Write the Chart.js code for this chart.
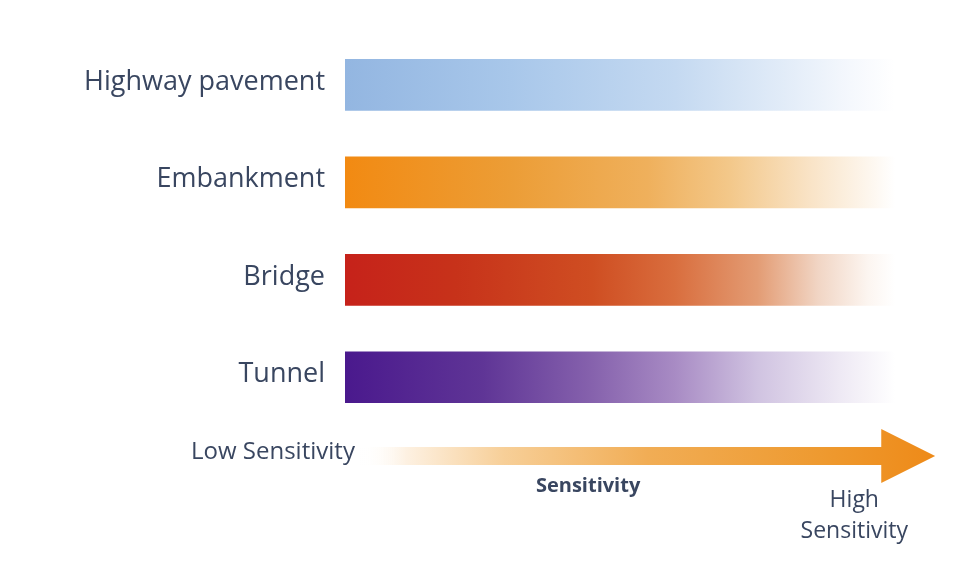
<!DOCTYPE html>
<html>
<head>
<meta charset="utf-8">
<script src="https://cdn.jsdelivr.net/npm/chart.js@4.4.1/dist/chart.umd.min.js"></script>
<style>
  html, body { margin: 0; padding: 0; background: #ffffff; }
  #wrap { width: 973px; height: 563px; position: relative; }
</style>
</head>
<body>
<div id="wrap"><canvas id="c"></canvas></div>
<script>
// ---- data ----
const categories = ["Highway pavement", "Embankment", "Bridge", "Tunnel"];
const sensitivityValues = [100, 100, 100, 100];
const axisLabelLow = "Low Sensitivity";
const axisLabelHigh = ["High", "Sensitivity"];
const axisTitle = "Sensitivity";

// ---- styles ----
const TEXT_COLOR = "#394660";
const FONT = "'Open Sans', 'Noto Sans', sans-serif";
const gradientStops = [
  [[0, "#93b6e1"], [0.3, "#a8c7ea"], [0.6, "#c4d9f1"], [0.8, "#e2ecf8"], [0.92, "#f5f8fd"], [1, "#ffffff"]],
  [[0, "#f28a12"], [0.3, "#ec9d36"], [0.55, "#efb05c"], [0.7, "#f3c88a"], [0.85, "#f9e4c8"], [1, "#ffffff"]],
  [[0, "#c6221a"], [0.2, "#c7321a"], [0.45, "#cf4e22"], [0.6, "#d96e3e"], [0.75, "#e39c74"], [0.86, "#f1d5c4"], [0.95, "#fcf5f0"], [1, "#ffffff"]],
  [[0, "#4a198d"], [0.25, "#5f3596"], [0.45, "#8662ad"], [0.6, "#a88bc4"], [0.75, "#d0c3e1"], [0.9, "#eee9f4"], [1, "#ffffff"]]
];

function barGradient(context) {
  const chart = context.chart;
  const area = chart.chartArea;
  if (!area) return gradientStops[context.dataIndex][0][1];
  const g = chart.ctx.createLinearGradient(area.left, 0, area.right, 0);
  gradientStops[context.dataIndex].forEach(s => g.addColorStop(s[0], s[1]));
  return g;
}

const arrowPlugin = {
  id: "sensitivityArrow",
  afterDraw(chart) {
    const ctx = chart.ctx;
    const xs = chart.scales.x;
    const area = chart.chartArea;
    const yMid = area.bottom + 30;
    const x0 = xs.getPixelForValue(2.7);
    const xHead = xs.getPixelForValue(97.5);
    const xTip = xs.getPixelForValue(107.3);
    const shaftHalf = 9, headHalf = 27;
    const g = ctx.createLinearGradient(x0, 0, xTip, 0);
    g.addColorStop(0, "rgba(255,255,255,0)");
    g.addColorStop(0.08, "#fdf1e2");
    g.addColorStop(0.25, "#f7cf98");
    g.addColorStop(0.5, "#f1ad55");
    g.addColorStop(0.8, "#ee9a30");
    g.addColorStop(1, "#ee8a18");
    ctx.save();
    ctx.fillStyle = g;
    ctx.beginPath();
    ctx.moveTo(x0, yMid - shaftHalf);
    ctx.lineTo(xHead, yMid - shaftHalf);
    ctx.lineTo(xHead, yMid - headHalf);
    ctx.lineTo(xTip, yMid);
    ctx.lineTo(xHead, yMid + headHalf);
    ctx.lineTo(xHead, yMid + shaftHalf);
    ctx.lineTo(x0, yMid + shaftHalf);
    ctx.closePath();
    ctx.fill();

    ctx.fillStyle = TEXT_COLOR;
    ctx.textBaseline = "middle";
    ctx.font = "24px " + FONT;
    ctx.textAlign = "right";
    ctx.fillText(axisLabelLow, xs.getPixelForValue(1.8), yMid - 4);

    ctx.textAlign = "center";
    ctx.font = "bold 20px " + FONT;
    ctx.fillText(axisTitle, xs.getPixelForValue(44.2), yMid + 30);

    ctx.font = "23px " + FONT;
    const hx = xs.getPixelForValue(92.6);
    ctx.fillText(axisLabelHigh[0], hx, yMid + 44);
    ctx.fillText(axisLabelHigh[1], hx, yMid + 75);
    ctx.restore();
  }
};

new Chart(document.getElementById("c"), {
  type: "bar",
  data: {
    labels: categories,
    datasets: [{
      data: sensitivityValues,
      backgroundColor: barGradient,
      borderWidth: 0,
      barPercentage: 0.53,
      categoryPercentage: 1.0
    }]
  },
  options: {
    indexAxis: "y",
    responsive: true,
    maintainAspectRatio: false,
    animation: false,
    layout: { padding: { top: 33, bottom: 137, left: 0, right: 78 } },
    plugins: { legend: { display: false }, tooltip: { enabled: false } },
    scales: {
      x: { display: false, min: 0, max: 100 },
      y: {
        afterFit(scale) { scale.width = 345; },
        grid: { display: false, drawTicks: false },
        border: { display: false },
        ticks: {
          color: TEXT_COLOR,
          font: { family: FONT, size: 27 },
          padding: 20,
          labelOffset: -3
        }
      }
    }
  },
  plugins: [arrowPlugin]
});
</script>
</body>
</html>
